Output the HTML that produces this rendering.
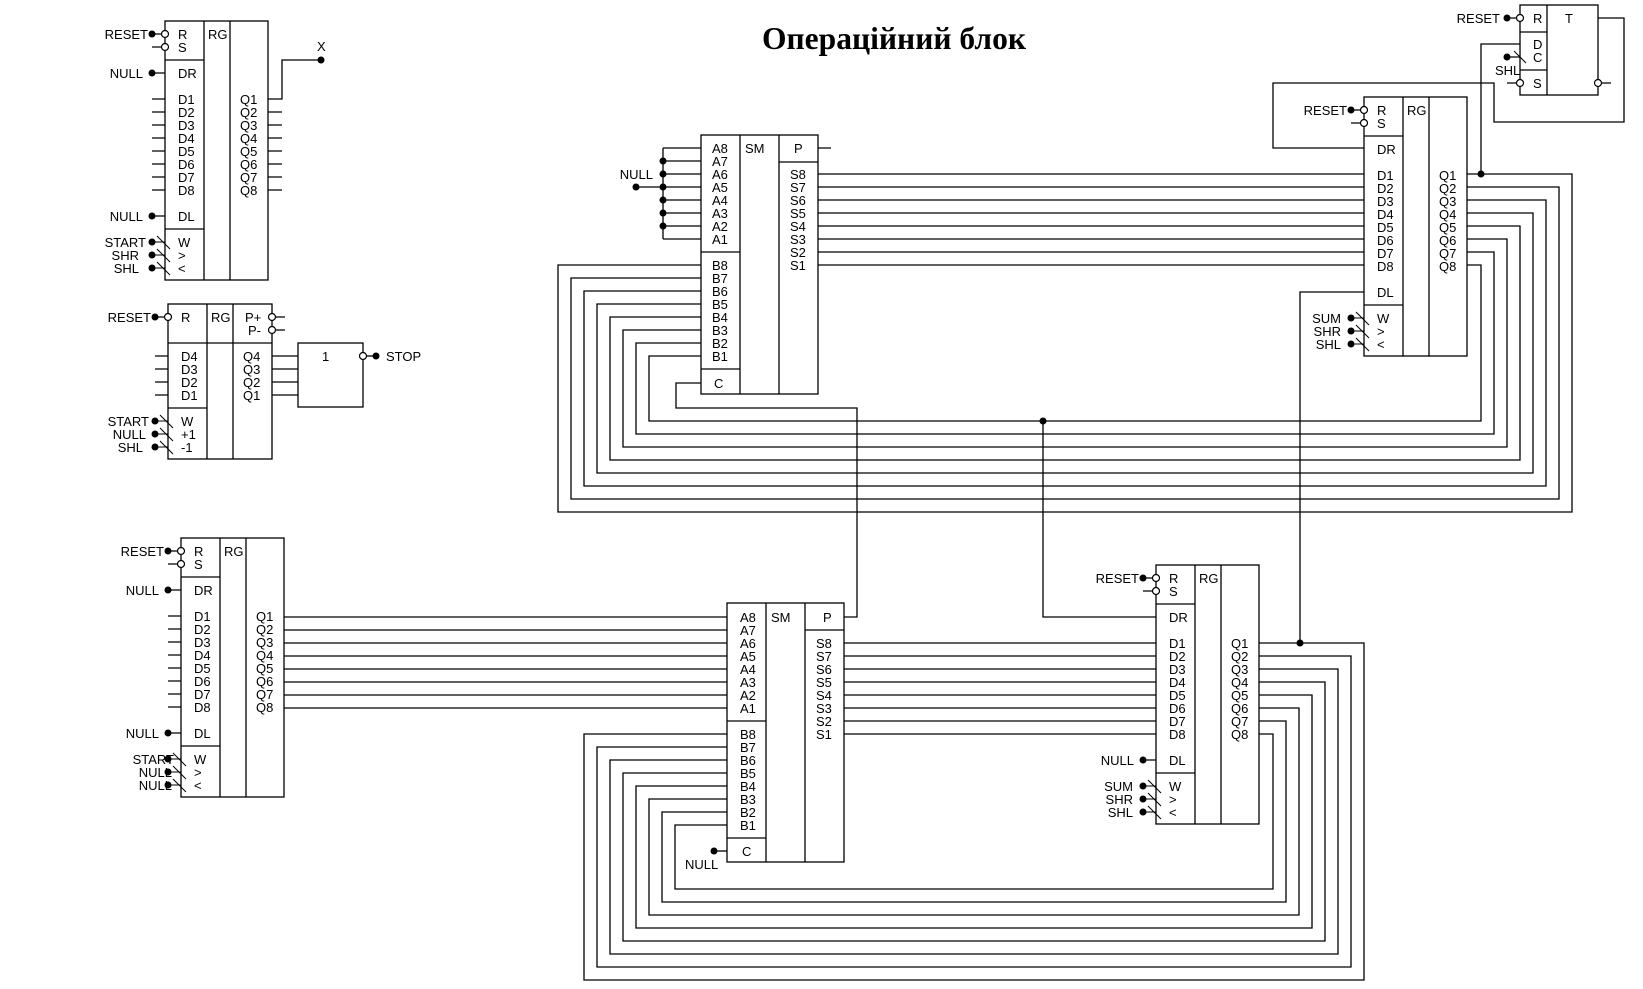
<!DOCTYPE html>
<html><head><meta charset="utf-8"><style>
html,body{margin:0;padding:0;background:#fff;}
svg{display:block;}
text{font-family:"Liberation Sans",Arial,sans-serif;font-size:13px;fill:#000;}
.t{font-family:"Liberation Serif","Noto Serif CJK SC",serif;font-size:32px;font-weight:bold;}
.e{text-anchor:end;}
</style></head><body>
<svg width="1643" height="989" viewBox="0 0 1643 989" xmlns="http://www.w3.org/2000/svg">
<g fill="none" stroke="#000" stroke-width="1.3">

<!-- ========== Register A (top-left) ========== -->
<g>
<rect x="165" y="21" width="103" height="259"/>
<path d="M204,21V280M230,21V280M165,60H204M165,229H204"/>
<path d="M152,34H162M152,47H162M152,73H165M152,216H165M152,99h13M152,112h13M152,125h13M152,138h13M152,151h13M152,164h13M152,177h13M152,190h13"/>
<path d="M152,242H165M152,255H165M152,268H165M157,236l13,13M157,249l13,13M157,262l13,13" stroke-width="1"/>
<path d="M268,112h14M268,125h14M268,138h14M268,151h14M268,164h14M268,177h14M268,190h14M268,99H282V60H321"/>
</g>
<!-- ========== Register B (top-right) ========== -->
<g transform="translate(1199,76)">
<rect x="165" y="21" width="103" height="259"/>
<path d="M204,21V280M230,21V280M165,60H204M165,229H204"/>
<path d="M152,34H162M152,47H162"/>
<path d="M152,242H165M152,255H165M152,268H165M157,236l13,13M157,249l13,13M157,262l13,13" stroke-width="1"/>
</g>
<!-- ========== Register C (bottom-left) ========== -->
<g transform="translate(16,517)">
<rect x="165" y="21" width="103" height="259"/>
<path d="M204,21V280M230,21V280M165,60H204M165,229H204"/>
<path d="M152,34H162M152,47H162M152,73H165M152,216H165M152,99h13M152,112h13M152,125h13M152,138h13M152,151h13M152,164h13M152,177h13M152,190h13"/>
<path d="M152,242H165M152,255H165M152,268H165M157,236l13,13M157,249l13,13M157,262l13,13" stroke-width="1"/>
</g>
<!-- ========== Register D (bottom-right) ========== -->
<g transform="translate(991,544)">
<rect x="165" y="21" width="103" height="259"/>
<path d="M204,21V280M230,21V280M165,60H204M165,229H204"/>
<path d="M152,34H162M152,47H162M152,216H165"/>
<path d="M152,242H165M152,255H165M152,268H165M157,236l13,13M157,249l13,13M157,262l13,13" stroke-width="1"/>
</g>

<!-- ========== Counter register ========== -->
<rect x="168" y="304" width="104" height="155"/>
<path d="M207,304V459M233,304V459M168,343H272M168,408H207"/>
<path d="M155,317H165M272,317h13M272,330h13M155,356h13M155,369h13M155,382h13M155,395h13"/>
<path d="M272,356h26M272,369h26M272,382h26M272,395h26"/>
<path d="M155,421H168M155,434H168M155,447H168M160,415l13,13M160,428l13,13M160,441l13,13" stroke-width="1"/>
<rect x="298" y="343" width="65" height="64"/>
<path d="M366,356H376"/>

<!-- ========== Top SM ========== -->
<rect x="701" y="135" width="117" height="259"/>
<path d="M740,135V394M779,135V394M701,252H740M701,369H740M779,162H818"/>
<path d="M663,148H701M663,161H701M663,174H701M663,187H701M663,200H701M663,213H701M663,226H701M663,239H701M663,148V239M636,187H663M818,148h13"/>
<path d="M818,174H1364M818,187H1364M818,200H1364M818,213H1364M818,226H1364M818,239H1364M818,252H1364M818,265H1364"/>
<!-- B loops top -->
<path d="M701,265H558V512H1572V174H1467"/>
<path d="M701,278H571V499H1559V187H1467"/>
<path d="M701,291H584V486H1546V200H1467"/>
<path d="M701,304H597V473H1533V213H1467"/>
<path d="M701,317H610V460H1520V226H1467"/>
<path d="M701,330H623V447H1507V239H1467"/>
<path d="M701,343H636V434H1494V252H1467"/>
<path d="M701,356H649V421H1481V265H1467"/>
<path d="M701,383H676V408H857V617H844"/>
<path d="M1043,421V617H1156"/>
<path d="M1481,174V44H1520"/>
<path d="M1364,292H1300V643"/>

<!-- ========== T trigger ========== -->
<rect x="1520" y="5" width="78" height="90"/>
<path d="M1547,5V95M1520,32H1547M1520,70H1547"/>
<path d="M1507,18H1517M1507,57H1520M1507,83H1517M1601,83H1611"/>
<path d="M1514,51l12,12" stroke-width="1"/>
<path d="M1598,18H1624V122H1494V83H1273V148H1364"/>

<!-- ========== Bottom SM ========== -->
<rect x="727" y="603" width="117" height="259"/>
<path d="M766,603V862M805,603V862M727,721H766M727,838H766M805,630H844"/>
<path d="M284,617H727M284,630H727M284,643H727M284,656H727M284,669H727M284,682H727M284,695H727M284,708H727"/>
<path d="M844,643H1156M844,656H1156M844,669H1156M844,682H1156M844,695H1156M844,708H1156M844,721H1156M844,734H1156"/>
<path d="M714,851H727"/>
<path d="M727,734H584V980H1364V643H1259"/>
<path d="M727,747H597V967H1351V656H1259"/>
<path d="M727,760H610V954H1338V669H1259"/>
<path d="M727,773H623V941H1325V682H1259"/>
<path d="M727,786H636V928H1312V695H1259"/>
<path d="M727,799H649V915H1299V708H1259"/>
<path d="M727,812H662V902H1286V721H1259"/>
<path d="M727,825H675V889H1273V734H1259"/>
</g>

<!-- open circles -->
<g fill="#fff" stroke="#000" stroke-width="1.2">
<circle cx="165" cy="34" r="3.5"/><circle cx="165" cy="47" r="3.5"/>
<circle cx="1364" cy="110" r="3.5"/><circle cx="1364" cy="123" r="3.5"/>
<circle cx="181" cy="551" r="3.5"/><circle cx="181" cy="564" r="3.5"/>
<circle cx="1156" cy="578" r="3.5"/><circle cx="1156" cy="591" r="3.5"/>
<circle cx="168" cy="317" r="3.5"/><circle cx="272" cy="317" r="3.5"/><circle cx="272" cy="330" r="3.5"/>
<circle cx="363" cy="356" r="3.5"/>
<circle cx="1520" cy="18" r="3.5"/><circle cx="1520" cy="83" r="3.5"/><circle cx="1598" cy="83" r="3.5"/>
</g>
<!-- filled dots -->
<g fill="#000">
<circle cx="152" cy="34" r="3.5"/><circle cx="152" cy="73" r="3.5"/><circle cx="152" cy="216" r="3.5"/>
<circle cx="152" cy="242" r="3.5"/><circle cx="152" cy="255" r="3.5"/><circle cx="152" cy="268" r="3.5"/>
<circle cx="321" cy="60" r="3.5"/>
<circle cx="1351" cy="110" r="3.5"/><circle cx="1351" cy="318" r="3.5"/><circle cx="1351" cy="331" r="3.5"/><circle cx="1351" cy="344" r="3.5"/>
<circle cx="168" cy="551" r="3.5"/><circle cx="168" cy="590" r="3.5"/><circle cx="168" cy="733" r="3.5"/>
<circle cx="168" cy="759" r="3.5"/><circle cx="168" cy="772" r="3.5"/><circle cx="168" cy="785" r="3.5"/>
<circle cx="1143" cy="578" r="3.5"/><circle cx="1143" cy="760" r="3.5"/>
<circle cx="1143" cy="786" r="3.5"/><circle cx="1143" cy="799" r="3.5"/><circle cx="1143" cy="812" r="3.5"/>
<circle cx="155" cy="317" r="3.5"/><circle cx="155" cy="421" r="3.5"/><circle cx="155" cy="434" r="3.5"/><circle cx="155" cy="447" r="3.5"/>
<circle cx="376" cy="356" r="3.5"/>
<circle cx="663" cy="161" r="3.5"/><circle cx="663" cy="174" r="3.5"/><circle cx="663" cy="187" r="3.5"/><circle cx="663" cy="200" r="3.5"/><circle cx="663" cy="213" r="3.5"/><circle cx="663" cy="226" r="3.5"/>
<circle cx="636" cy="187" r="3.5"/>
<circle cx="1043" cy="421" r="3.5"/><circle cx="1481" cy="174" r="3.5"/><circle cx="1300" cy="643" r="3.5"/>
<circle cx="1507" cy="18" r="3.5"/><circle cx="1507" cy="57" r="3.5"/>
<circle cx="714" cy="851" r="3.5"/>
</g>

<!-- ===== Title ===== -->
<text class="t" x="762" y="49" textLength="264" lengthAdjust="spacingAndGlyphs">Операційний блок</text>

<!-- ===== Register A text ===== -->
<g>
<text x="178" y="39">R</text><text x="178" y="52">S</text><text x="208" y="39">RG</text>
<text x="178" y="78">DR</text>
<text x="178" y="104">D1</text><text x="178" y="117">D2</text><text x="178" y="130">D3</text><text x="178" y="143">D4</text><text x="178" y="156">D5</text><text x="178" y="169">D6</text><text x="178" y="182">D7</text><text x="178" y="195">D8</text>
<text x="178" y="221">DL</text><text x="178" y="247">W</text><text x="178" y="260">&gt;</text><text x="178" y="273">&lt;</text>
<text x="240" y="104">Q1</text><text x="240" y="117">Q2</text><text x="240" y="130">Q3</text><text x="240" y="143">Q4</text><text x="240" y="156">Q5</text><text x="240" y="169">Q6</text><text x="240" y="182">Q7</text><text x="240" y="195">Q8</text>
<text class="e" x="148" y="39">RESET</text><text class="e" x="143" y="78">NULL</text><text class="e" x="143" y="221">NULL</text>
<text class="e" x="146" y="247">START</text><text class="e" x="139" y="260">SHR</text><text class="e" x="139" y="273">SHL</text>
<text x="317" y="51">X</text>
</g>
<!-- ===== Register B text ===== -->
<g transform="translate(1199,76)">
<text x="178" y="39">R</text><text x="178" y="52">S</text><text x="208" y="39">RG</text>
<text x="178" y="78">DR</text>
<text x="178" y="104">D1</text><text x="178" y="117">D2</text><text x="178" y="130">D3</text><text x="178" y="143">D4</text><text x="178" y="156">D5</text><text x="178" y="169">D6</text><text x="178" y="182">D7</text><text x="178" y="195">D8</text>
<text x="178" y="221">DL</text><text x="178" y="247">W</text><text x="178" y="260">&gt;</text><text x="178" y="273">&lt;</text>
<text x="240" y="104">Q1</text><text x="240" y="117">Q2</text><text x="240" y="130">Q3</text><text x="240" y="143">Q4</text><text x="240" y="156">Q5</text><text x="240" y="169">Q6</text><text x="240" y="182">Q7</text><text x="240" y="195">Q8</text>
<text class="e" x="148" y="39">RESET</text>
<text class="e" x="142" y="247">SUM</text><text class="e" x="142" y="260">SHR</text><text class="e" x="142" y="273">SHL</text>
</g>
<!-- ===== Register C text ===== -->
<g transform="translate(16,517)">
<text x="178" y="39">R</text><text x="178" y="52">S</text><text x="208" y="39">RG</text>
<text x="178" y="78">DR</text>
<text x="178" y="104">D1</text><text x="178" y="117">D2</text><text x="178" y="130">D3</text><text x="178" y="143">D4</text><text x="178" y="156">D5</text><text x="178" y="169">D6</text><text x="178" y="182">D7</text><text x="178" y="195">D8</text>
<text x="178" y="221">DL</text><text x="178" y="247">W</text><text x="178" y="260">&gt;</text><text x="178" y="273">&lt;</text>
<text x="240" y="104">Q1</text><text x="240" y="117">Q2</text><text x="240" y="130">Q3</text><text x="240" y="143">Q4</text><text x="240" y="156">Q5</text><text x="240" y="169">Q6</text><text x="240" y="182">Q7</text><text x="240" y="195">Q8</text>
<text class="e" x="148" y="39">RESET</text><text class="e" x="143" y="78">NULL</text><text class="e" x="143" y="221">NULL</text>
<text class="e" x="158" y="247">START</text><text class="e" x="156" y="260">NULL</text><text class="e" x="156" y="273">NULL</text>
</g>
<!-- ===== Register D text ===== -->
<g transform="translate(991,544)">
<text x="178" y="39">R</text><text x="178" y="52">S</text><text x="208" y="39">RG</text>
<text x="178" y="78">DR</text>
<text x="178" y="104">D1</text><text x="178" y="117">D2</text><text x="178" y="130">D3</text><text x="178" y="143">D4</text><text x="178" y="156">D5</text><text x="178" y="169">D6</text><text x="178" y="182">D7</text><text x="178" y="195">D8</text>
<text x="178" y="221">DL</text><text x="178" y="247">W</text><text x="178" y="260">&gt;</text><text x="178" y="273">&lt;</text>
<text x="240" y="104">Q1</text><text x="240" y="117">Q2</text><text x="240" y="130">Q3</text><text x="240" y="143">Q4</text><text x="240" y="156">Q5</text><text x="240" y="169">Q6</text><text x="240" y="182">Q7</text><text x="240" y="195">Q8</text>
<text class="e" x="148" y="39">RESET</text><text class="e" x="143" y="221">NULL</text>
<text class="e" x="142" y="247">SUM</text><text class="e" x="142" y="260">SHR</text><text class="e" x="142" y="273">SHL</text>
</g>
<!-- ===== Counter text ===== -->
<text x="181" y="322">R</text><text x="211" y="322">RG</text>
<text x="245" y="322">P+</text><text x="248" y="335">P-</text>
<text x="181" y="361">D4</text><text x="181" y="374">D3</text><text x="181" y="387">D2</text><text x="181" y="400">D1</text>
<text x="243" y="361">Q4</text><text x="243" y="374">Q3</text><text x="243" y="387">Q2</text><text x="243" y="400">Q1</text>
<text x="181" y="426">W</text><text x="181" y="439">+1</text><text x="181" y="452">-1</text>
<text class="e" x="151" y="322">RESET</text><text class="e" x="149" y="426">START</text><text class="e" x="146" y="439">NULL</text><text class="e" x="143" y="452">SHL</text>
<text x="322" y="361">1</text><text x="386" y="361">STOP</text>
<!-- ===== Top SM text ===== -->
<text x="712" y="153">A8</text><text x="712" y="166">A7</text><text x="712" y="179">A6</text><text x="712" y="192">A5</text><text x="712" y="205">A4</text><text x="712" y="218">A3</text><text x="712" y="231">A2</text><text x="712" y="244">A1</text>
<text x="712" y="270">B8</text><text x="712" y="283">B7</text><text x="712" y="296">B6</text><text x="712" y="309">B5</text><text x="712" y="322">B4</text><text x="712" y="335">B3</text><text x="712" y="348">B2</text><text x="712" y="361">B1</text>
<text x="714" y="388">C</text><text x="745" y="153">SM</text><text x="794" y="153">P</text>
<text x="790" y="179">S8</text><text x="790" y="192">S7</text><text x="790" y="205">S6</text><text x="790" y="218">S5</text><text x="790" y="231">S4</text><text x="790" y="244">S3</text><text x="790" y="257">S2</text><text x="790" y="270">S1</text>
<text class="e" x="653" y="179">NULL</text>
<!-- ===== Bottom SM text ===== -->
<text x="740" y="622">A8</text><text x="740" y="635">A7</text><text x="740" y="648">A6</text><text x="740" y="661">A5</text><text x="740" y="674">A4</text><text x="740" y="687">A3</text><text x="740" y="700">A2</text><text x="740" y="713">A1</text>
<text x="740" y="739">B8</text><text x="740" y="752">B7</text><text x="740" y="765">B6</text><text x="740" y="778">B5</text><text x="740" y="791">B4</text><text x="740" y="804">B3</text><text x="740" y="817">B2</text><text x="740" y="830">B1</text>
<text x="742" y="856">C</text><text x="771" y="622">SM</text><text x="823" y="622">P</text>
<text x="816" y="648">S8</text><text x="816" y="661">S7</text><text x="816" y="674">S6</text><text x="816" y="687">S5</text><text x="816" y="700">S4</text><text x="816" y="713">S3</text><text x="816" y="726">S2</text><text x="816" y="739">S1</text>
<text x="685" y="869">NULL</text>
<!-- ===== T trigger text ===== -->
<text x="1533" y="23">R</text><text x="1565" y="23">T</text>
<text x="1533" y="49">D</text><text x="1533" y="62">C</text><text x="1533" y="88">S</text>
<text class="e" x="1500" y="23">RESET</text><text x="1495" y="75">SHL</text>
</svg>
</body></html>
